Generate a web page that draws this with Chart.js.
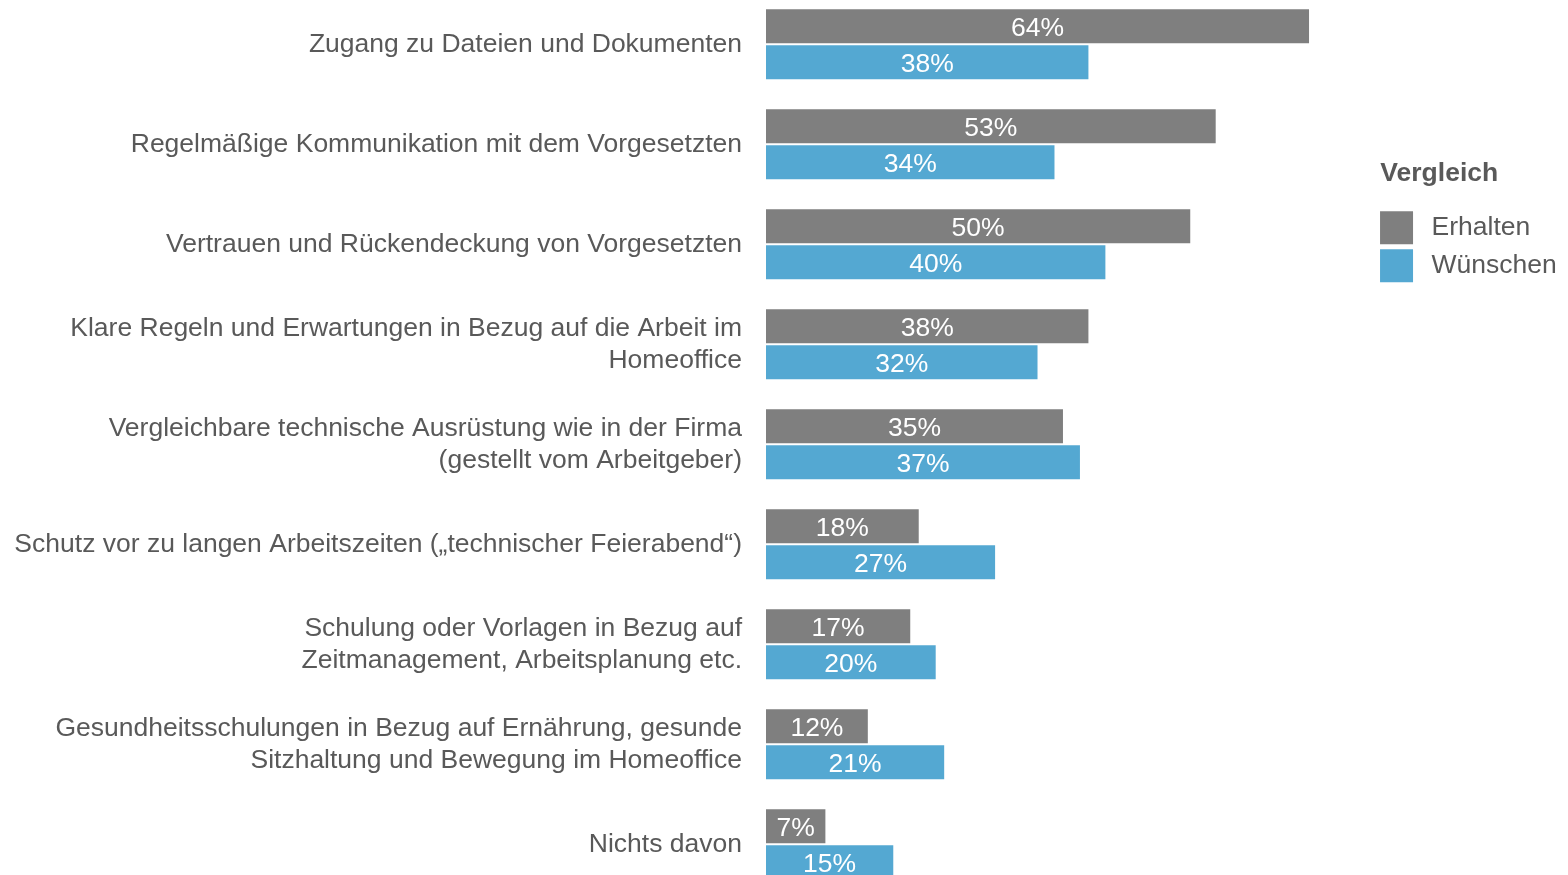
<!DOCTYPE html>
<html>
<head>
<meta charset="utf-8">
<script src="https://cdn.jsdelivr.net/npm/chart.js@4/dist/chart.umd.min.js"></script>
<style>
  html, body { margin: 0; padding: 0; background: #ffffff; }
  #wrap { width: 1568px; height: 875px; position: relative; }
</style>
</head>
<body>
<div id="wrap"><canvas id="c" width="1568" height="875"></canvas></div>
<script>
const categories = [
  "Zugang zu Dateien und Dokumenten",
  "Regelmäßige Kommunikation mit dem Vorgesetzten",
  "Vertrauen und Rückendeckung von Vorgesetzten",
  ["Klare Regeln und Erwartungen in Bezug auf die Arbeit im", "Homeoffice"],
  ["Vergleichbare technische Ausrüstung wie in der Firma", "(gestellt vom Arbeitgeber)"],
  "Schutz vor zu langen Arbeitszeiten („technischer Feierabend“)",
  ["Schulung oder Vorlagen in Bezug auf", "Zeitmanagement, Arbeitsplanung etc."],
  ["Gesundheitsschulungen in Bezug auf Ernährung, gesunde", "Sitzhaltung und Bewegung im Homeoffice"],
  "Nichts davon"
];
const seriesNames = ["Erhalten", "Wünschen"];
const erhalten = [64, 53, 50, 38, 35, 18, 17, 12, 7];
const wuenschen = [38, 34, 40, 32, 37, 27, 20, 21, 15];
const legendTitle = "Vergleich";

const FONT = "'Liberation Sans', Arial, sans-serif";
const FS = 26.5;
const TEXT = "#595959";
const THIN = "\u2009";

const barLabels = {
  id: 'barLabels',
  afterDatasetsDraw(chart) {
    const ctx = chart.ctx;
    ctx.save();
    ctx.fillStyle = '#ffffff';
    ctx.font = FS + "px " + FONT;
    ctx.textAlign = 'center';
    ctx.textBaseline = 'middle';
    chart.data.datasets.forEach((ds, di) => {
      const meta = chart.getDatasetMeta(di);
      meta.data.forEach((bar, i) => {
        const p = bar.getProps(['x', 'y', 'base'], true);
        ctx.fillText(ds.data[i] + '%', (p.x + p.base) / 2, p.y + 2);
      });
    });
    ctx.restore();
  }
};

new Chart(document.getElementById('c'), {
  type: 'bar',
  data: {
    labels: categories,
    datasets: [
      { label: seriesNames[0], data: erhalten, backgroundColor: '#7f7f7f', borderWidth: 0, clip: false },
      { label: seriesNames[1], data: wuenschen, backgroundColor: '#54a8d2', borderWidth: 0, clip: false }
    ]
  },
  options: {
    indexAxis: 'y',
    responsive: false,
    animation: false,
    devicePixelRatio: 1,
    categoryPercentage: 0.72,
    barPercentage: 0.945,
    layout: { padding: { top: 44.3, bottom: 30.7, left: 0, right: 1.2 } },
    scales: {
      x: { display: false, min: 0, max: 71.78 },
      y: {
        offset: false,
        grid: { display: false, drawTicks: false },
        border: { display: false },
        ticks: {
          autoSkip: false,
          padding: 24,
          color: TEXT,
          font: { family: FONT, size: FS, lineHeight: 1.2075 }
        },
        afterFit(scale) {
          scale.width = 766;
          scale.paddingTop = 0;
          scale.paddingBottom = 0;
        }
      }
    },
    plugins: {
      tooltip: { enabled: false },
      legend: {
        position: 'right',
        align: 'start',
        title: {
          display: true,
          position: 'start',
          text: THIN + legendTitle,
          color: TEXT,
          font: { family: FONT, size: FS, weight: 'bold', lineHeight: 1.2 },
          padding: { top: 115.75, bottom: 14.45 }
        },
        labels: {
          boxWidth: 33,
          boxHeight: 33,
          padding: 5,
          color: TEXT,
          font: { family: FONT, size: FS },
          generateLabels(chart) {
            return Chart.defaults.plugins.legend.labels.generateLabels(chart)
              .map(item => Object.assign(item, { text: THIN + item.text }));
          }
        }
      }
    }
  },
  plugins: [barLabels]
});
</script>
</body>
</html>
